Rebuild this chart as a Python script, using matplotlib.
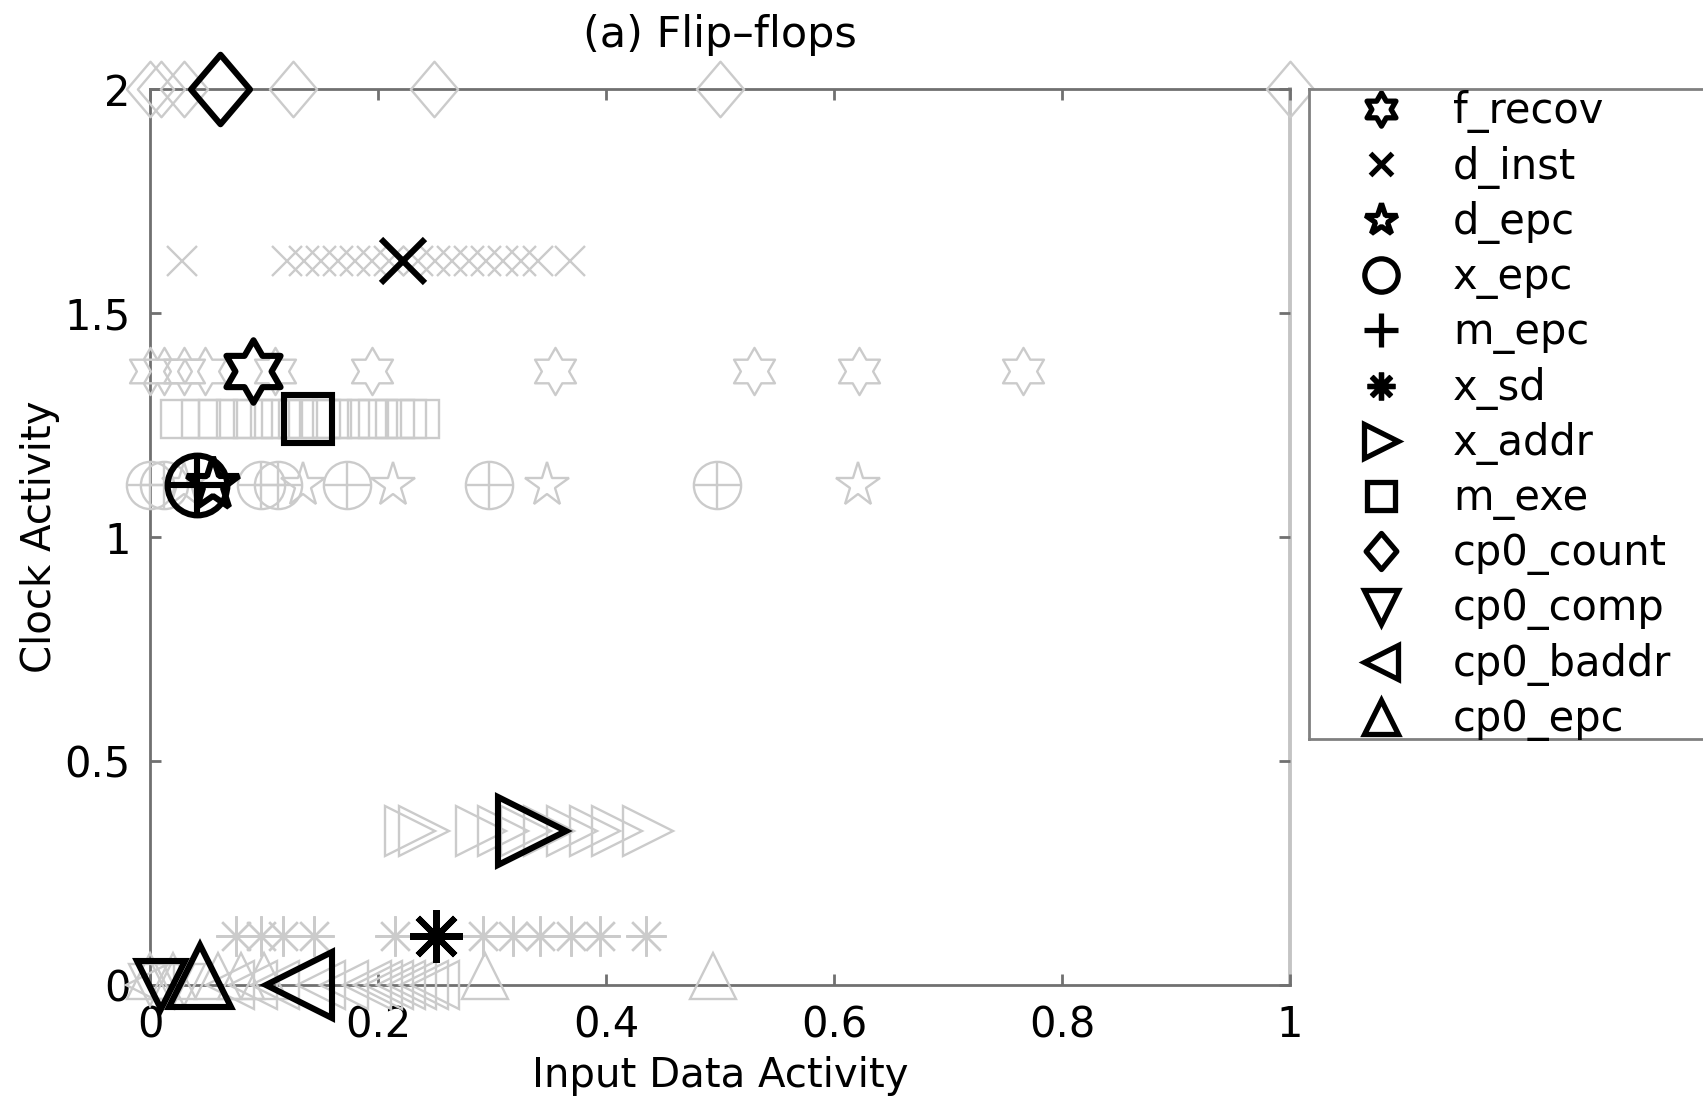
import numpy as np
import matplotlib
matplotlib.use("Agg")
import matplotlib.pyplot as plt
from matplotlib.path import Path

# register names (legend order)
names = ["f_recov", "d_inst", "d_epc", "x_epc", "m_epc", "x_sd",
         "x_addr", "m_exe", "cp0_count", "cp0_comp", "cp0_baddr", "cp0_epc"]

# clock activity of each register
clock = [1.37, 1.616, 1.115, 1.115, 1.115, 0.109,
         0.344, 1.263, 2.0, 0.0, 0.0, 0.02]

# highlighted (black) input data activity
main_x = [0.09, 0.222, 0.055, 0.041, 0.041, 0.251,
          0.335, 0.139, 0.061, 0.01, 0.131, 0.044]

# other instances (grey)
f_recov_x = [0.0, 0.012, 0.03, 0.048, 0.11, 0.195, 0.355, 0.53, 0.622, 0.766]
d_inst_x = [0.028, 0.12, 0.135, 0.15, 0.165, 0.18, 0.195, 0.21, 0.235, 0.25,
            0.265, 0.28, 0.295, 0.31, 0.325, 0.34, 0.368]
d_epc_x = [0.03, 0.134, 0.213, 0.348, 0.621]
x_epc_x = [0.0, 0.012, 0.097, 0.112, 0.173, 0.297, 0.497]
m_epc_x = [0.0, 0.012, 0.097, 0.112, 0.173, 0.297, 0.497]
x_sd_x = [0.075, 0.097, 0.117, 0.144, 0.215, 0.292, 0.318, 0.342, 0.369,
          0.395, 0.435]
x_addr_x = [0.228, 0.24, 0.29, 0.31, 0.33, 0.35, 0.37, 0.39, 0.41, 0.437]
m_exe_x = [0.026, 0.045, 0.06, 0.075, 0.09, 0.105, 0.115, 0.13, 0.15, 0.16,
           0.175, 0.19, 0.2, 0.215, 0.225, 0.237]
cp0_count_x = [0.0, 0.01, 0.03, 0.125, 0.249, 0.5, 1.0]
cp0_comp_x = [0.0, 0.02, 0.03]
cp0_baddr_x = [0.0, 0.07, 0.09, 0.11, 0.15, 0.17, 0.19, 0.2, 0.21, 0.22,
               0.23, 0.24, 0.25]
cp0_epc_x = [0.0, 0.02, 0.06, 0.08, 0.1, 0.294, 0.494]

others = [f_recov_x, d_inst_x, d_epc_x, x_epc_x, m_epc_x, x_sd_x,
          x_addr_x, m_exe_x, cp0_count_x, cp0_comp_x, cp0_baddr_x, cp0_epc_x]


def hexagram():
    ang = np.pi / 2 + np.arange(12) * np.pi / 6
    r = np.where(np.arange(12) % 2 == 0, 1.0, 1.0 / np.sqrt(3))
    verts = np.column_stack([r * np.cos(ang), r * np.sin(ang)])
    return Path(np.vstack([verts, verts[:1]]), closed=True)


diamond = Path([(0, 1), (0.85, 0), (0, -1), (-0.85, 0), (0, 1)], closed=True)

markers = [hexagram(), "x", "*", "o", "+", (8, 2, 0),
           ">", "s", diamond, "v", "<", "^"]
# marker sizes (points): black, grey, legend
big = [45, 31, 40, 43, 43, 38, 49, 35, 50, 35, 48, 44]
small = [34, 22, 33, 34, 34, 29, 36, 28, 40, 30, 34, 33]
leg = [24, 16, 24, 24, 24, 20, 24, 20, 26, 24, 24, 24]

GREY = "#cbcbcb"
AXC = "#707070"

plt.rcParams["font.family"] = ["DejaVu Sans"]

fig = plt.figure(figsize=(17.03, 11), dpi=100)
ax = fig.add_axes([150 / 1703, 115 / 1100, 1140 / 1703, 896 / 1100])

for i in range(len(names)):
    ax.plot(others[i], [clock[i]] * len(others[i]), linestyle="none",
            marker=markers[i], markersize=small[i], markerfacecolor="none",
            markeredgecolor=GREY, markeredgewidth=1.7, clip_on=False)

for i in range(len(names)):
    ax.plot([main_x[i]], [clock[i]], linestyle="none",
            marker=markers[i], markersize=big[i], markerfacecolor="none",
            markeredgecolor="black", markeredgewidth=4.4, clip_on=False,
            zorder=5)

ax.set_xlim(0, 1)
ax.set_ylim(0, 2)
ax.set_xticks([0, 0.2, 0.4, 0.6, 0.8, 1])
ax.set_xticklabels(["0", "0.2", "0.4", "0.6", "0.8", "1"])
ax.set_yticks([0, 0.5, 1, 1.5, 2])
ax.set_yticklabels(["0", "0.5", "1", "1.5", "2"])
ax.tick_params(direction="in", top=True, right=True, length=8, width=2,
               color=AXC, labelsize=30, pad=14)
for s in ["left", "bottom", "top"]:
    ax.spines[s].set_color(AXC)
    ax.spines[s].set_linewidth(2)
ax.spines["right"].set_color("#c4c4c4")
ax.spines["right"].set_linewidth(2.8)
for s in ax.spines.values():
    s.set_zorder(1)

ax.set_xlabel("Input Data Activity", fontsize=29)
ax.xaxis.set_label_coords(0.5, -0.079)
ax.set_ylabel("Clock Activity", fontsize=29)
ax.yaxis.set_label_coords(-0.079, 0.5)
ax.text(0.5, 1.06, "(a) Flip\u2013flops", transform=ax.transAxes,
        ha="center", va="center", fontsize=31)

# legend box (runs off the right edge like the original)
lax = fig.add_axes([1309 / 1703, 361 / 1100, 443 / 1703, 650 / 1100])
lax.set_xlim(0, 1)
lax.set_ylim(len(names) - 1 + 0.392, -0.362)
lax.set_xticks([])
lax.set_yticks([])
for s in lax.spines.values():
    s.set_color("#808080")
    s.set_linewidth(2)
for i, name in enumerate(names):
    lax.plot([0.1626], [i], linestyle="none", marker=markers[i],
             markersize=leg[i], markerfacecolor="none",
             markeredgecolor="black", markeredgewidth=3.8)
    lax.text(0.325, i + 0.05, name, fontsize=30, va="center", ha="left")

fig.savefig("out.png", dpi=100)
